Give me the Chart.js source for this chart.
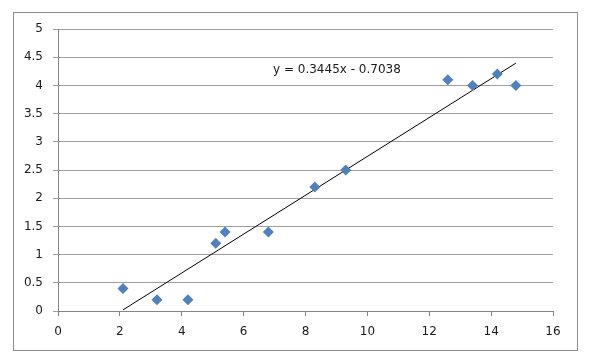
<!DOCTYPE html>
<html>
<head>
<meta charset="utf-8">
<script src="https://cdn.jsdelivr.net/npm/chart.js@4/dist/chart.umd.min.js"></script>
<style>
  html, body { margin: 0; padding: 0; background: #ffffff; }
  canvas { display: block; }
</style>
</head>
<body>
<canvas id="c" width="589" height="360"></canvas>
<script>
// ---- data ----
const xValues = [2.1, 3.2, 4.2, 5.1, 5.4, 6.8, 8.3, 9.3, 12.6, 13.4, 14.2, 14.8];
const yValues = [0.4, 0.2, 0.2, 1.2, 1.4, 1.4, 2.2, 2.5, 4.1, 4.0, 4.2, 4.0];
const trendSlope = 0.3445;
const trendIntercept = -0.7038;
const equationText = 'y = 0.3445x - 0.7038';
const xTicks = [0, 2, 4, 6, 8, 10, 12, 14, 16];
const yTicks = [0, 0.5, 1, 1.5, 2, 2.5, 3, 3.5, 4, 4.5, 5];

const points = xValues.map((x, i) => ({ x: x, y: yValues[i] }));
const xMin = Math.min(...xValues), xMax = Math.max(...xValues);
const trendPoints = [
  { x: xMin, y: trendSlope * xMin + trendIntercept },
  { x: xMax, y: trendSlope * xMax + trendIntercept }
];

const FONT = { family: '"DejaVu Sans", sans-serif', size: 12 };
const TEXT_COLOR = '#1a1a1a';
const AXIS_COLOR = '#868686';
const GRID_COLOR = '#9e9e9e';

const frame = {
  id: 'frame',
  beforeDraw(chart) {
    const ctx = chart.ctx;
    ctx.save();
    ctx.fillStyle = '#ffffff';
    ctx.fillRect(0, 0, chart.width, chart.height);
    ctx.strokeStyle = '#8c8c8c';
    ctx.lineWidth = 1;
    ctx.strokeRect(13.5, 12.5, 564, 338);
    ctx.restore();
  },
  afterDatasetsDraw(chart) {
    const ctx = chart.ctx;
    ctx.save();
    ctx.font = FONT.size + 'px ' + FONT.family;
    ctx.fillStyle = TEXT_COLOR;
    ctx.textAlign = 'left';
    ctx.textBaseline = 'middle';
    ctx.fillText(equationText, 273, 70);
    ctx.restore();
  }
};

new Chart(document.getElementById('c'), {
  type: 'scatter',
  data: {
    datasets: [
      {
        label: 'data',
        data: points,
        pointStyle: 'rectRot',
        pointRadius: 5.5,
        pointHoverRadius: 5.5,
        backgroundColor: '#4F81BD',
        borderColor: '#4F81BD',
        borderWidth: 0,
        order: 1
      },
      {
        type: 'line',
        label: 'trend',
        data: trendPoints,
        borderColor: '#000000',
        borderWidth: 1,
        pointRadius: 0,
        fill: false,
        order: 2
      }
    ]
  },
  options: {
    responsive: false,
    animation: false,
    devicePixelRatio: 1,
    layout: { padding: { left: 13, top: 29, right: 36, bottom: 0 } },
    plugins: { legend: { display: false }, tooltip: { enabled: false } },
    scales: {
      x: {
        type: 'linear',
        min: 0, max: 16,
        afterBuildTicks(s) { s.ticks = xTicks.map(v => ({ value: v })); },
        afterFit(s) { s.height = 49; },
        ticks: { font: FONT, color: TEXT_COLOR, padding: 9, maxRotation: 0, callback: v => String(v) },
        grid: { drawOnChartArea: false, drawTicks: true, tickLength: 5, color: AXIS_COLOR },
        border: { color: AXIS_COLOR, width: 1 }
      },
      y: {
        type: 'linear',
        min: 0, max: 5,
        afterBuildTicks(s) { s.ticks = yTicks.map(v => ({ value: v })); },
        afterFit(s) { s.width = 45; },
        ticks: { font: FONT, color: TEXT_COLOR, padding: 10, callback: v => String(v) },
        grid: { drawTicks: true, tickLength: 5, color: GRID_COLOR },
        border: { color: AXIS_COLOR, width: 1 }
      }
    }
  },
  plugins: [frame]
});
</script>
</body>
</html>
